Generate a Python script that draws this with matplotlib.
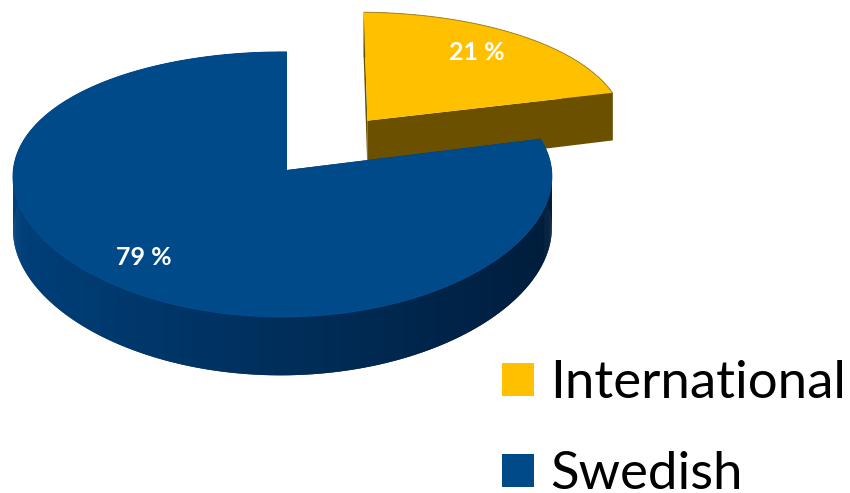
import numpy as np
import matplotlib
matplotlib.use("Agg")
import matplotlib.pyplot as plt
from matplotlib.patches import Polygon, Patch

# Student origin shares
categories = ["International", "Swedish"]
shares = [21, 79]
pct_labels = ["21 %", "79 %"]
explode = [0.5, 0.0]

top_colors = ["#FFC000", "#004A8A"]
top_edges = ["#A88A2A", "#004A8A"]
wall_light = [(0.47, 0.35, 0.0), (0.0, 0.25, 0.48)]
wall_dark = [(0.40, 0.30, 0.0), (0.0, 0.11, 0.23)]
radial_colors = ["#6B5000", "#003566"]

plt.rcParams["font.family"] = ["Lato", "DejaVu Sans"]

W, H = 850, 493
fig = plt.figure(figsize=(W / 100, H / 100), dpi=100)
ax = fig.add_axes([0, 0, 1, 1])
ax.set_xlim(0, W)
ax.set_ylim(H, 0)
ax.axis("off")

# perspective view of a tilted disc
CX, CY = 287.0, 170.0
SX, SY = 269.0, 130.9
KV, KU, KX = 0.109, 0.017, 0.05
DEPTH = 52.0
LABEL_R, LABEL_DX = 0.78, -9.0


def project(u, v, z=0.0):
    u = np.asarray(u, float)
    v = np.asarray(v, float)
    w = 1 + KV * v + KU * u
    wx = 1 + KX * v + KU * u
    return np.column_stack([CX + SX * u / wx, CY - SY * v / w + DEPTH * z / w])


def mix(c0, c1, f):
    return tuple(a + (b - a) * f for a, b in zip(c0, c1))


total = float(sum(shares))
start = 0.0
slices = []
for i, s in enumerate(shares):
    a0, a1 = start, start + 360.0 * s / total
    start = a1
    mid = np.radians((a0 + a1) / 2)
    ou, ov = explode[i] * np.sin(mid), explode[i] * np.cos(mid)
    slices.append((i, a0, a1, mid, ou, ov))

# draw farthest slice first
slices.sort(key=lambda t: -t[5])

for i, a0, a1, mid, ou, ov in slices:
    th = np.radians(np.linspace(a0, a1, max(8, int(a1 - a0) * 2)))
    ru, rv = ou + np.sin(th), ov + np.cos(th)
    top = project(ru, rv, 0)
    bot = project(ru, rv, 1)
    apex_t = project([ou], [ov], 0)[0]
    apex_b = project([ou], [ov], 1)[0]

    walls = []
    n = len(th)
    for j in range(n - 1):
        k = min(j + 2, n - 1)  # overlap neighbours to hide seams
        quad = [top[j], top[k], bot[k], bot[j]]
        f = 0.5 - 0.5 * np.sin((th[j] + th[j + 1]) / 2)
        col = mix(wall_dark[i], wall_light[i], f)
        walls.append(((rv[j] + rv[j + 1]) / 2, quad, col))
    for k in (0, -1):
        quad = [apex_t, top[k], bot[k], apex_b]
        walls.append(((ov + rv[k]) / 2, quad, radial_colors[i]))
    walls.sort(key=lambda t: -t[0])
    for _, quad, col in walls:
        ax.add_patch(Polygon(quad, closed=True, facecolor=col, edgecolor="none"))

    face = np.vstack([apex_t, top])
    ax.add_patch(Polygon(face, closed=True, facecolor=top_colors[i],
                         edgecolor="none"))
    ax.plot(top[:, 0], top[:, 1], color=top_edges[i], lw=0.7,
            solid_capstyle="butt")

# percentage labels on the top faces
for i, a0, a1, mid, ou, ov in slices:
    p = project([ou + LABEL_R * np.sin(mid)], [ov + LABEL_R * np.cos(mid)], 0)[0]
    ax.text(p[0] + LABEL_DX, p[1], pct_labels[i], color="white", fontsize=18,
            fontweight="bold", ha="center", va="center")

handles = [Patch(facecolor=top_colors[i], edgecolor="none") for i in range(len(categories))]
ax.legend(handles, categories, loc="upper left", bbox_to_anchor=(502 / W, 1 - 360 / H),
          frameon=False, fontsize=38, handlelength=0.6, handleheight=0.6,
          handletextpad=0.32, labelspacing=0.84, borderpad=0, borderaxespad=0)

fig.savefig("out.png", dpi=100)
